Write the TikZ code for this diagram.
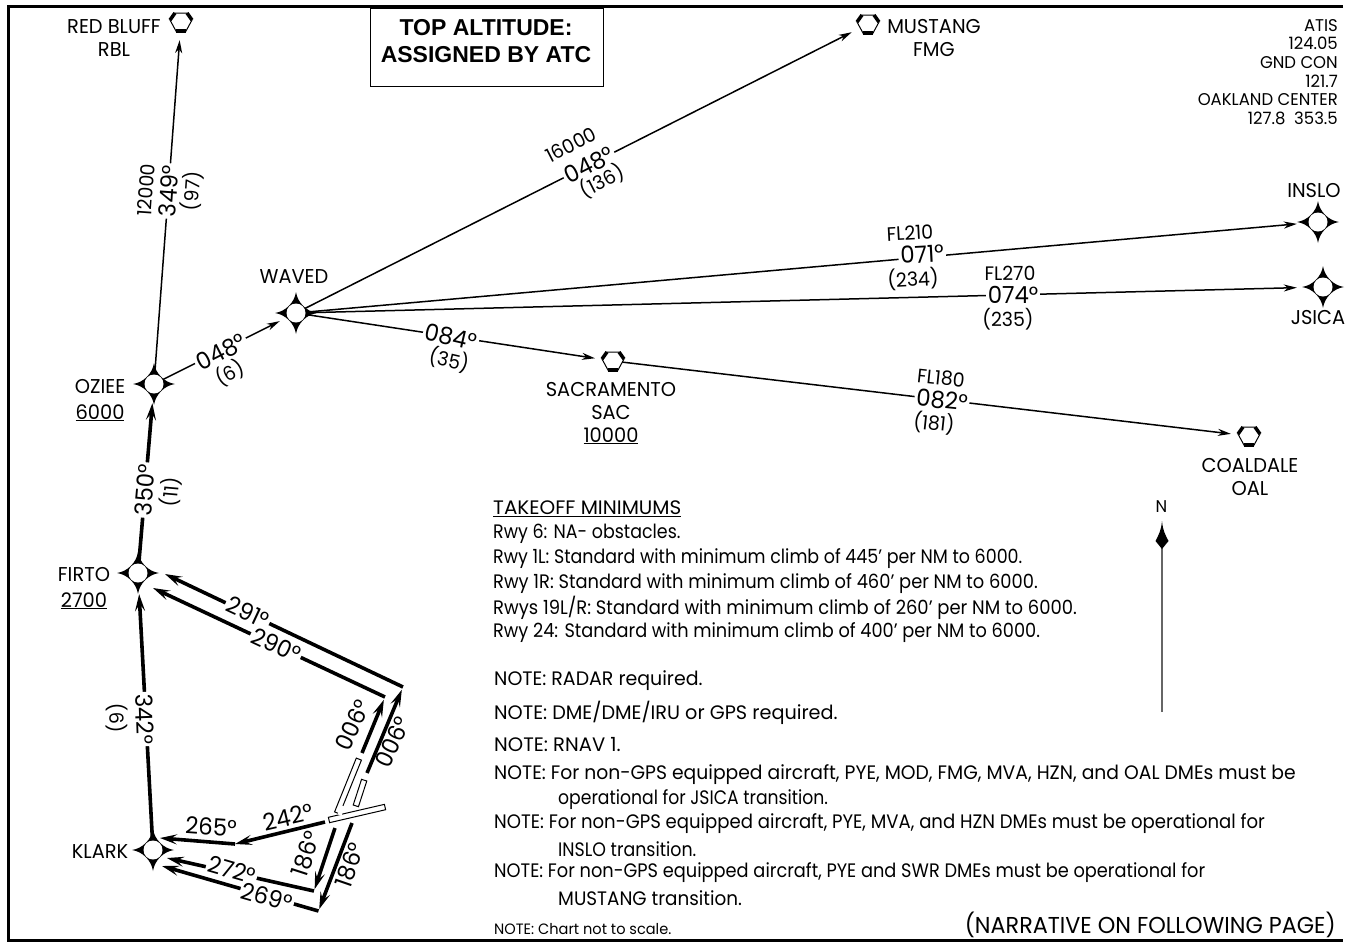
\documentclass[tikz,border=0pt]{standalone}
\usepackage{fontspec}
\usepackage{graphicx}
\setmainfont{Poppins}[FakeStretch=0.86]
\newfontfamily\capsfont{Poppins}[FakeStretch=0.97]
\newfontfamily\boxfont{Liberation Sans}
\usetikzlibrary{arrows.meta}
\usetikzlibrary{positioning}
\usetikzlibrary{calc}
\newcommand{\fsz}[1]{\fontsize{#1}{#1}\selectfont}

\begin{document}
\begin{tikzpicture}[
  x=1pt,y=-1pt,
  leg/.style={
    line width=1.5pt,
    -{Stealth[length=13pt,width=7pt,inset=4pt]}
  },
  route/.style={
    line width=3.6pt,
    -{Stealth[length=17pt,width=10pt,inset=7pt]}
  },
  fixpt/.style={circle,inner sep=0pt,minimum size=0pt},
  ptname/.style={font=\capsfont\fsz{20},align=center,inner sep=0pt},
  hdg/.style={font=\capsfont\fsz{23.5},fill=white,inner sep=2pt},
  alt/.style={font=\capsfont\fsz{19.5},inner sep=0pt},
  txt/.style={font=\fsz{19.5},anchor=west,inner sep=0pt},
  rwy/.style={draw,fill=white,line width=1pt,inner sep=0pt,minimum height=5.5pt},
]

  \useasboundingbox (0,0) rectangle (1345,943);
  \draw[line width=3pt] (1343,6) -- (8,6) -- (8,940.5) -- (1343,940.5);

    % Fixes
  \foreach \nm/\x/\y in {waved/296/313,oziee/154/384,firto/138/573,klark/153/850,inslo/1318/222,jsica/1323/287} {
    \node[fixpt] (\nm) at (\x,\y) {};
  }
    % Navaids
  \foreach \nm/\x/\y in {rbl/181/22,fmg/868/24,sac/613/361,oal/1249/436} {
    \node[fixpt] (\nm) at (\x,\y) {};
  }

    % Corners of the departure routes
  \coordinate (cn291) at (403,687);
  \coordinate (cn290) at (385,697);
  \coordinate (cn272) at (314,891);
  \coordinate (cn269) at (318.5,911);
  \coordinate (st006a) at (362,753);
  \coordinate (st006b) at (367,773);
  \coordinate (st186a) at (335,828);
  \coordinate (st186b) at (352,823);
  \coordinate (st242) at (325,822);
  \coordinate (jn265) at (235,844);
  \coordinate (in291) at ($(firto)+(27,1)$);
  \coordinate (in290) at ($(firto)+(15,15)$);
  \coordinate (in265) at ($(klark)+(7,-12)$);
  \coordinate (in272) at ($(klark)+(14,8)$);
  \coordinate (in269) at ($(klark)+(9,16)$);

    % En route legs
  \draw[leg,shorten >=18pt] (oziee) to (rbl);
  \draw[leg,shorten >=18pt] (waved) to (fmg);
  \draw[leg,shorten >=21pt] (waved) to (inslo);
  \draw[leg,shorten >=26pt] (waved) to (jsica);
  \draw[leg,shorten >=18pt] (waved) to (sac);
  \draw[leg,shorten >=18pt] (sac) to (oal);
  \draw[leg,shorten >=18pt] (oziee) to (waved);

    % Departure routes
  \draw[route,shorten >=19pt] (firto) to (oziee);
  \draw[route,shorten >=21pt] (klark) to (firto);
  \draw[route] (cn291) to (in291);
  \draw[route] (cn290) to (in290);
  \draw[route,shorten >=3pt] (st006a) to (cn290);
  \draw[route,shorten >=3pt] (st006b) to (cn291);
  \draw[route,shorten >=2pt] (st186a) to (cn272);
  \draw[route,shorten >=2pt] (st186b) to (cn269);
  \draw[route] (st242) to (jn265);
  \draw[route] (jn265) to (in265);
  \draw[route] (cn272) to (in272);
  \draw[route] (cn269) to (in269);

    % Runways
  \node[rwy,minimum width=58pt,rotate=68] (rwy_1r) at (348,786) {};
  \node[rwy,minimum width=27pt,rotate=72] (rwy_1l) at (360,793) {};
  \node[rwy,minimum width=57.5pt,rotate=13] (rwy_6) at (357,813.5) {};
  \draw[line width=4pt,white] (343,806) -- (339.5,815);

    % Fix and navaid symbols
  \foreach \nm in {waved,oziee,firto,klark,inslo,jsica} {
    \begin{scope}[shift={(\nm)}]
      \fill (0,-21) .. controls (1.5,-10.5) and (10.5,-1.5) .. (21,0)
                    .. controls (10.5,1.5) and (1.5,10.5) .. (0,21)
                    .. controls (-1.5,10.5) and (-10.5,1.5) .. (-21,0)
                    .. controls (-10.5,-1.5) and (-1.5,-10.5) .. (0,-21);
      \fill[white] (0,0) circle (9.5);
    \end{scope}
  }
  \foreach \nm in {rbl,fmg,sac,oal} {
    \begin{scope}[shift={(\nm)}]
      \filldraw[fill=white,line width=1pt] (-11,-2) -- (-6,-9) -- (6,-9) -- (11,-2) -- (4.5,10) -- (-4.5,10) -- cycle;
      \draw[line width=3.5pt] (-11,-2) -- (-6,-9);
      \draw[line width=3.5pt] (6,-9) -- (11,-2);
      \draw[line width=4pt] (-5,9) -- (5,9);
    \end{scope}
  }

    % Point names
  \node[ptname] (lbl_rbl) at (114,38) {RED BLUFF\\[3pt]RBL};
  \node[ptname] (lbl_fmg) at (934,38) {MUSTANG\\[3pt]FMG};
  \node[ptname] (lbl_waved) at (294,277) {WAVED};
  \node[ptname] (lbl_oziee) at (100,400) {OZIEE\\[6pt]\underline{6000}};
  \node[ptname] (lbl_sac) at (611,413) {SACRAMENTO\\[3pt]SAC\\[3pt]\underline{10000}};
  \node[ptname] (lbl_oal) at (1250,477) {COALDALE\\[3pt]OAL};
  \node[ptname] (lbl_firto) at (84,588) {FIRTO\\[6pt]\underline{2700}};
  \node[ptname] (lbl_klark) at (100,852) {KLARK};
  \node[ptname] (lbl_inslo) at (1314,191) {INSLO};
  \node[ptname] (lbl_jsica) at (1318,318) {JSICA};

    % Labels on the en route legs
  \node[alt,rotate=86] (alt_rbl) at (146,190) {12000};
  \node[hdg,rotate=86] (hdg_rbl) at (169,191) {349°};
  \node[alt,rotate=86] (nm_rbl) at (192,191) {(97)};

  \node[alt,rotate=27] (alt_fmg) at (571,145) {16000};
  \node[hdg,rotate=27] (hdg_fmg) at (589,165) {048°};
  \node[alt,rotate=27] (nm_fmg) at (602,181) {(136)};

  \node[alt,rotate=3] (alt_inslo) at (910,233) {FL210};
  \node[hdg,rotate=3] (hdg_inslo) at (922,254) {071°};
  \node[alt,rotate=3] (nm_inslo) at (913,279) {(234)};

  \node[alt] (alt_jsica) at (1010,273) {FL270};
  \node[hdg] (hdg_jsica) at (1013,295) {074°};
  \node[alt] (nm_jsica) at (1008,319) {(235)};

  \node[hdg,rotate=-13] (hdg_sac) at (451,337) {084°};
  \node[alt,rotate=-13] (nm_sac) at (449,360) {(35)};

  \node[alt,rotate=-6] (alt_oal) at (941,378) {FL180};
  \node[hdg,rotate=-6] (hdg_oal) at (942,400) {082°};
  \node[alt,rotate=-6] (nm_oal) at (934,423) {(181)};

  \node[hdg,rotate=27] (hdg_waved) at (221,352) {048°};
  \node[alt,rotate=27] (nm_waved) at (230,373) {(6)};

    % Labels on the departure routes
  \node[hdg,rotate=85] (hdg_oziee) at (145,490) {350°};
  \node[alt,rotate=85] (nm_oziee) at (171,492) {(11)};
  \node[hdg,rotate=-88] (hdg_firto) at (145,719) {342°};
  \node[alt,rotate=-88] (nm_firto) at (117,718) {(6)};
  \node[hdg,rotate=-25] (hdg_291) at (248,612) {291°};
  \node[hdg,rotate=-25] (hdg_290) at (276,645) {290°};
  \node[hdg,rotate=65,fill=none] (hdg_006a) at (353,725) {006°};
  \node[hdg,rotate=65,fill=none] (hdg_006b) at (393,742) {006°};
  \node[hdg,rotate=13,fill=none] (hdg_242) at (288,817) {242°};
  \node[hdg,rotate=-4,fill=none] (hdg_265) at (211,827) {265°};
  \node[hdg,rotate=72,fill=none] (hdg_186a) at (306,854) {186°};
  \node[hdg,rotate=71,fill=none] (hdg_186b) at (350,865) {186°};
  \node[hdg,rotate=-16] (hdg_272) at (232,870) {272°};
  \node[hdg,rotate=-16] (hdg_269) at (267,897) {269°};

    % Altitude box
  \node[draw,line width=1pt,minimum width=233pt,minimum height=78pt] (topalt) at (486.5,47) {};
  \node[align=center,inner sep=0pt,font=\boxfont\bfseries\fsz{23}] (topalt_txt) at (486,41.5)
    {TOP ALTITUDE:\\[4pt]ASSIGNED BY ATC};

    % Frequencies
  \node[font=\capsfont\fsz{17},align=right,anchor=north east,inner sep=0pt] (freq) at (1338,19)
    {ATIS\\[1.6pt]124.05\\[1.6pt]GND CON\\[1.6pt]121.7\\[1.6pt]OAKLAND CENTER\\[1.6pt]127.8\ \ 353.5};

    % North arrow
  \node[font=\capsfont\fsz{17},inner sep=0pt] (north) at (1161.5,507) {N};
  \coordinate (ntail) at (1162,712);
  \draw[line width=1.2pt,black!60] (ntail) -- (1162,545);
  \fill (1162,521) .. controls (1163,531) and (1165,534) .. (1168.5,541)
        -- (1162,549) -- (1155.5,541) .. controls (1159,534) and (1161,531) .. (1162,521);

    % Minimums and notes
  \foreach \lnum/\lx/\ly/\lsc/\ltext in {
      a/493/509/1.19/{\underline{TAKEOFF MINIMUMS}},
      b/493/534/1.04/{Rwy 6: NA- obstacles.},
      c/493/559/1.04/{Rwy 1L: Standard with minimum climb of 445' per NM to 6000.},
      d/493/584/1.064/{Rwy 1R: Standard with minimum climb of 460' per NM to 6000.},
      e/493/608/1.07/{Rwys 19L/R: Standard with minimum climb of 260' per NM to 6000.},
      f/493/633/1.056/{Rwy 24: Standard with minimum climb of 400' per NM to 6000.},
      g/494/681/1.13/{NOTE: RADAR required.},
      h/494/713/1.147/{NOTE: DME/DME/IRU or GPS required.},
      i/494/745/1.165/{NOTE: RNAV 1.},
      j/494/775/1.118/{NOTE: For non-GPS equipped aircraft, PYE, MOD, FMG, MVA, HZN, and OAL DMEs must be},
      k/558/800/1.027/{operational for JSICA transition.},
      l/494/824/1.078/{NOTE: For non-GPS equipped aircraft, PYE, MVA, and HZN DMEs must be operational for},
      m/558/849/1.037/{INSLO transition.},
      n/494/873/1.06/{NOTE: For non-GPS equipped aircraft, PYE and SWR DMEs must be operational for},
      o/558/898/1.095/{MUSTANG transition.}} {
    \node[txt] (note_\lnum) at (\lx,\ly) {\scalebox{\lsc}[1]{\ltext}};
  }
  \node[txt,font=\capsfont\fsz{15}] (note_chart) at (494,929) {NOTE: Chart not to scale.};
  \node[txt,font=\capsfont\fsz{23},anchor=east] (narrative) at (1336,925) {(NARRATIVE ON FOLLOWING PAGE)};

\end{tikzpicture}
\end{document}
